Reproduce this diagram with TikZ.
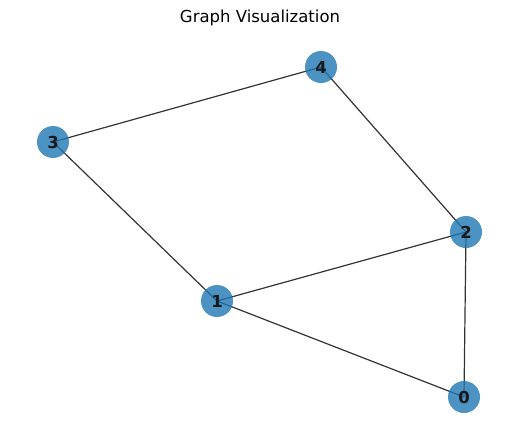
\documentclass[tikz,border=0pt]{standalone}
\usepackage{fontspec}
\setmainfont{DejaVu Sans}
\definecolor{nodeblue}{HTML}{1F77B4}
\definecolor{edgegray}{HTML}{333333}

\begin{document}
\begin{tikzpicture}
[
	x=1pt,
	y=-1pt,
	vertex/.style={circle,fill=nodeblue,fill opacity=0.8,text opacity=1,inner sep=0pt,minimum size=32pt,font=\bfseries\fontsize{16.5}{19}\selectfont,text=black!90},
	edge/.style={edgegray,line width=1.2pt}
]
	\useasboundingbox (0,0) rectangle (519,442);

	% title
	\node[font=\fontsize{16.5}{19}\selectfont] (title) at (260,18) {Graph Visualization};

	% vertices
	\path (464,397) coordinate (p0)
	      (217,301) coordinate (p1)
	      (466,232) coordinate (p2)
	      (53,142)  coordinate (p3)
	      (321,67)  coordinate (p4);

	% edges
	\draw[edge] (p3) -- (p4);
	\draw[edge] (p4) -- (p2);
	\draw[edge] (p3) -- (p1);
	\draw[edge] (p1) -- (p2);
	\draw[edge] (p1) -- (p0);
	\draw[edge] (p2) -- (p0);

	% nodes
	\foreach \i in {0,...,4}
		\node[vertex] (n\i) at (p\i) {\i};

\end{tikzpicture}
\end{document}
